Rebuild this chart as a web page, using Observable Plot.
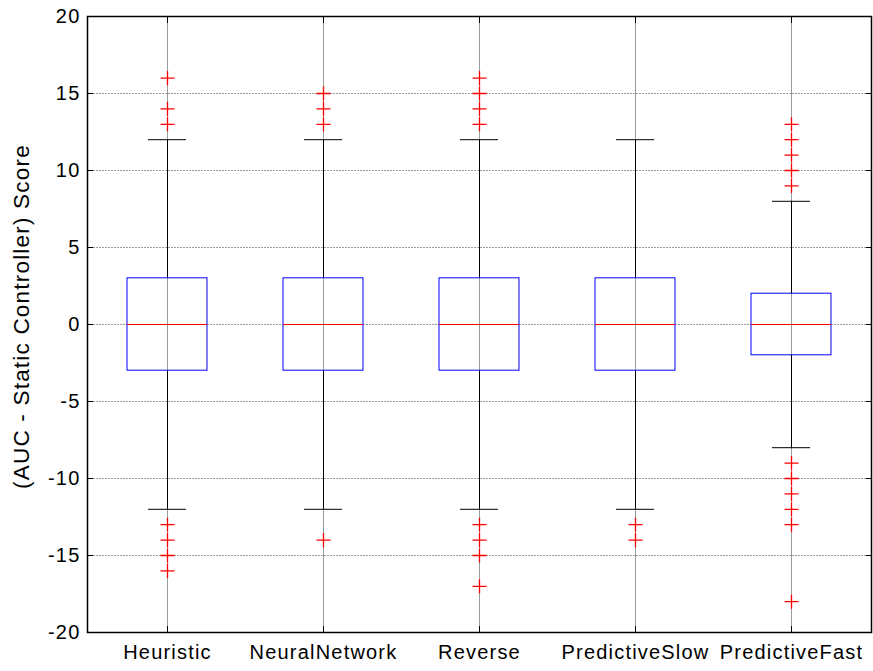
<!DOCTYPE html>
<html>
<head>
<meta charset="utf-8">
<script src="https://cdn.jsdelivr.net/npm/d3@7"></script>
<script src="https://cdn.jsdelivr.net/npm/@observablehq/plot@0.6"></script>
<style>
  body { margin: 0; background: #fff; }
  #chart svg { display: block; }
  #chart svg text { letter-spacing: 1.2px; }
</style>
</head>
<body>
<div id="chart"></div>
<script>
// Controllers compared against the static controller
const controllers = ["Heuristic", "NeuralNetwork", "Reverse", "PredictiveSlow", "PredictiveFast"];

// Box statistics per controller
const lowerWhisker = [-12, -12, -12, -12, -8];
const quartile1    = [-3, -3, -3, -3, -2];
const medians      = [0, 0, 0, 0, 0];
const quartile3    = [3, 3, 3, 3, 2];
const upperWhisker = [12, 12, 12, 12, 8];

// Outlying scores per controller
const outHeuristic      = [16, 14, 13, -13, -14, -15, -16];
const outNeuralNetwork  = [15, 14, 13, -14];
const outReverse        = [16, 15, 14, 13, -13, -14, -15, -17];
const outPredictiveSlow = [-13, -14];
const outPredictiveFast = [13, 12, 11, 10, 9, -9, -10, -11, -12, -13, -18];

const yTicks = [-20, -15, -10, -5, 0, 5, 10, 15, 20];
const yLabel = "(AUC - Static Controller) Score";

const boxes = controllers.map((c, i) => ({
  controller: c,
  lo: lowerWhisker[i], q1: quartile1[i], med: medians[i], q3: quartile3[i], hi: upperWhisker[i]
}));

const outlierLists = [outHeuristic, outNeuralNetwork, outReverse, outPredictiveSlow, outPredictiveFast];
const points = controllers.flatMap((c, i) => outlierLists[i].map(v => ({controller: c, value: v})));

const gridColor = "#9a9a9a";
const blank = () => "";

const chart = Plot.plot({
  width: 873,
  height: 671,
  marginTop: 16,
  marginLeft: 87,
  marginRight: 2,
  marginBottom: 39,
  style: {fontFamily: "'Liberation Sans', Arial, Helvetica, sans-serif", fontSize: "20px", background: "white", color: "black"},
  x: {type: "band", domain: controllers, padding: 0, label: null},
  y: {domain: [-20, 20], label: null},
  marks: [
    // grid
    Plot.gridY(yTicks, {stroke: gridColor, strokeOpacity: 1, strokeDasharray: "2,1"}),
    Plot.gridX(controllers, {stroke: gridColor, strokeOpacity: 1}),
    // whiskers and caps
    Plot.ruleX(boxes, {x: "controller", y1: "lo", y2: "q1", stroke: "black", strokeWidth: 1}),
    Plot.ruleX(boxes, {x: "controller", y1: "q3", y2: "hi", stroke: "black", strokeWidth: 1}),
    Plot.tickY(boxes, {x: "controller", y: "lo", stroke: "black", inset: 59}),
    Plot.tickY(boxes, {x: "controller", y: "hi", stroke: "black", inset: 59}),
    // boxes and medians
    Plot.barY(boxes, {x: "controller", y1: "q1", y2: "q3", fill: "none", stroke: "blue", insetLeft: 38, insetRight: 38}),
    Plot.tickY(boxes, {x: "controller", y: "med", stroke: "red", inset: 38}),
    // outliers
    Plot.dot(points, {x: "controller", y: "value", symbol: "plus", r: 4.6, stroke: "red", strokeWidth: 1.3}),
    // frame and axes
    Plot.frame({stroke: "black", strokeWidth: 1.5}),
    Plot.axisY(yTicks, {anchor: "left", tickSize: 0, tickPadding: 7, tickFormat: d => String(d), fontSize: 20}),
    Plot.axisY(yTicks, {anchor: "left", tickSize: 6, dx: 6, tickFormat: blank}),
    Plot.axisY(yTicks, {anchor: "right", tickSize: 6, dx: -6, tickFormat: blank}),
    Plot.axisX({anchor: "bottom", tickSize: 0, tickPadding: 12, fontSize: 20}),
    Plot.axisX({anchor: "bottom", tickSize: 6, dy: -6, tickFormat: blank}),
    Plot.axisX({anchor: "top", tickSize: 6, dy: 6, tickFormat: blank}),
    Plot.text([yLabel], {frameAnchor: "left", rotate: -90, dx: -66, dy: -8, textAnchor: "middle", fontSize: 22.5})
  ]
});

document.getElementById("chart").appendChild(chart);
</script>
</body>
</html>
